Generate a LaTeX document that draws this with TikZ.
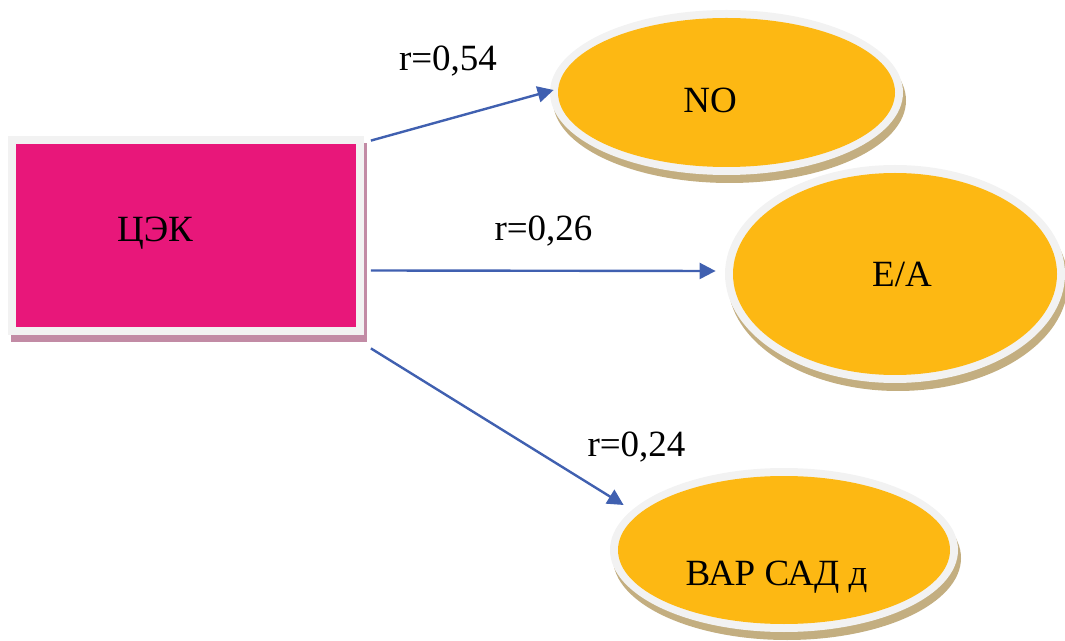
\documentclass[tikz,border=0pt]{standalone}
\usepackage{fontspec}
\setmainfont{Liberation Serif}
\usetikzlibrary{arrows.meta,shapes.geometric,shadows,calc}

\definecolor{rim}{HTML}{F2F2F2}
\definecolor{boxfill}{HTML}{E8177A}
\definecolor{boxshade}{HTML}{C28BA5}
\definecolor{gold}{HTML}{FDB813}
\definecolor{goldshade}{HTML}{C3AE80}
\definecolor{link}{HTML}{4060B0}

\tikzset{
  % rectangle with a light rim and a solid core
  causebox/.style={rectangle, inner sep=0pt, fill=rim,
    minimum width=178pt, minimum height=99.5pt,
    drop shadow={shadow xshift=1.5pt, shadow yshift=-3.5pt, fill=boxshade, opacity=1},
    path picture={\fill[boxfill]
      ($(path picture bounding box.south west)+(4pt,4pt)$) rectangle
      ($(path picture bounding box.north east)+(-4pt,-4pt)$);}},
  % ellipse with a light rim and a solid core
  effect/.style={ellipse, inner sep=0pt, fill=rim,
    drop shadow={shadow xshift=1.5pt, shadow yshift=-4pt, fill=goldshade, opacity=1},
    path picture={\fill[gold]
      let \p1=(path picture bounding box.north east),
          \p2=(path picture bounding box.center) in
      (\p2) ellipse [x radius={\x1-\x2-4pt}, y radius={\y1-\y2-4pt}];}},
  caption/.style={anchor=base, inner sep=0pt, font=\fontsize{18.5pt}{22pt}\selectfont},
  conn/.style={draw=link, line width=1.2pt,
    -{Triangle[length=8pt,width=8pt]}},
}

\begin{document}
\begin{tikzpicture}[x=0.5pt, y=-0.5pt]
  \useasboundingbox (0,0) rectangle (1065,641);

  % shapes
  \node[causebox] (cek) at (185.5,235.5) {};
  \node[effect, minimum width=176.5pt, minimum height=82.5pt] (no) at (726.5,92.5) {};
  \node[effect, minimum width=170pt, minimum height=109pt] (ea) at (895,274) {};
  \node[effect, minimum width=174pt, minimum height=82pt] (var) at (784,550) {};

  % texts inside the shapes
  \node[caption] (cektxt) at (155,242) {ЦЭК};
  \node[caption] (notxt) at (710,113) {NO};
  \node[caption] (eatxt) at (902,287) {E/A};
  \node[caption] (vartxt) at (776.5,585) {ВАР САД д};

  % connectors
  \draw[conn] ([shift={(7,5)}]cek.north east) -- ([shift={(4,-2.5)}]no.west);
  \draw[conn] ([shift={(7,35)}]cek.east) -- ([shift={(-9,-3)}]ea.west);
  \draw[conn] ([shift={(7,13)}]cek.south east) -- ([shift={(14,-45)}]var.west);

  % correlation coefficients
  \node[caption] (r1) at (448,70.7) {r=0,54};
  \node[caption] (r2) at (543.5,241) {r=0,26};
  \node[caption] (r3) at (636.5,457) {r=0,24};
\end{tikzpicture}
\end{document}
